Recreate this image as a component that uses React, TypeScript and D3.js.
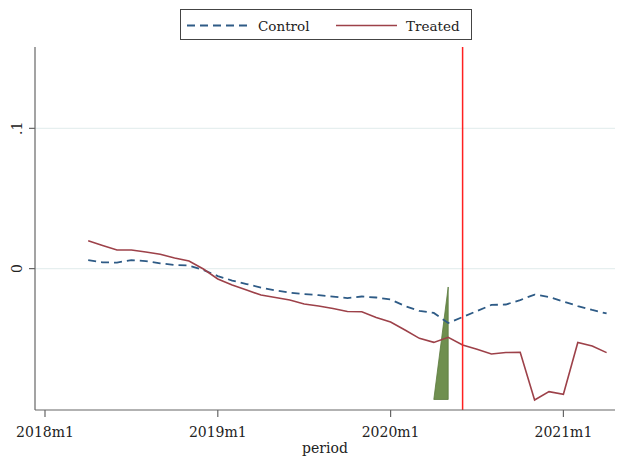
import React from "react";
import * as d3 from "d3";

const periods = [
  "2018m4","2018m5","2018m6","2018m7","2018m8","2018m9","2018m10","2018m11","2018m12",
  "2019m1","2019m2","2019m3","2019m4","2019m5","2019m6","2019m7","2019m8","2019m9","2019m10","2019m11","2019m12",
  "2020m1","2020m2","2020m3","2020m4","2020m5","2020m6","2020m7","2020m8","2020m9","2020m10","2020m11","2020m12",
  "2021m1","2021m2","2021m3","2021m4",
];

const control = [
  0.0061, 0.0045, 0.0043, 0.0061, 0.0054, 0.0038, 0.0026, 0.0022, -0.001,
  -0.0053, -0.0085, -0.011, -0.0135, -0.0156, -0.0171, -0.0182, -0.0189, -0.0199, -0.021, -0.0199, -0.0206,
  -0.022, -0.0267, -0.0302, -0.0316, -0.0388, -0.0345, -0.0302, -0.0259, -0.0256, -0.0224, -0.0185, -0.0202,
  -0.0234, -0.0267, -0.0295, -0.032,
];

const treated = [
  0.0199, 0.0165, 0.0133, 0.0133, 0.0118, 0.0102, 0.0076, 0.0054, -0.0003,
  -0.0074, -0.0117, -0.0153, -0.0188, -0.0206, -0.0224, -0.0252, -0.0267, -0.0284, -0.0306, -0.0307, -0.0349,
  -0.0381, -0.0438, -0.0497, -0.0526, -0.049, -0.0545, -0.0575, -0.0609, -0.0598, -0.0597, -0.0937, -0.0877,
  -0.0896, -0.0527, -0.0552, -0.0599,
];

const shadePeriods = ["2020m4", "2020m5"];
const shadeLow = [-0.0933, -0.0933];
const shadeHigh = [-0.0933, -0.0131];

const eventPeriod = "2020m6";

const xTickLabels = ["2018m1", "2019m1", "2020m1", "2021m1"];
const yTickValues = [0, 0.1];
const yTickLabels = ["0", ".1"];

const seriesNames = ["Control", "Treated"];

const toIndex = (p: string) => {
  const [y, m] = p.split("m").map(Number);
  return (y - 2018) * 12 + (m - 1);
};

const FONT = "DejaVu Serif";
const BLUE = "#2e5b86";
const RED = "#9d4149";

export default function App() {
  const W = 620, H = 456;
  const left = 35, right = 615, top = 47, bottom = 410;

  const x = d3.scaleLinear().domain([-0.694, 39.583]).range([left, right]);
  const y = d3.scaleLinear().domain([-0.1008, 0.158]).range([bottom, top]);

  const line = d3
    .line<[number, number]>()
    .x((d) => x(d[0]))
    .y((d) => y(d[1]));

  const ctrlData: [number, number][] = periods.map((p, i) => [toIndex(p), control[i]]);
  const trtData: [number, number][] = periods.map((p, i) => [toIndex(p), treated[i]]);

  const area = d3
    .area<number>()
    .x((i) => x(toIndex(shadePeriods[i])))
    .y0((i) => y(shadeLow[i]))
    .y1((i) => y(shadeHigh[i]));

  const ev = x(toIndex(eventPeriod));

  return (
    <svg
      width={W}
      height={H}
      style={{ position: "absolute", left: 0, top: 0, background: "#fff" }}
      fontFamily={FONT}
    >
      <rect x={0} y={0} width={W} height={H} fill="#fff" />
      {/* gridlines */}
      {yTickValues.map((v) => (
        <line key={v} x1={left} x2={right} y1={y(v)} y2={y(v)} stroke="#e6efef" strokeWidth={1.2} />
      ))}

      {/* shaded area */}
      <path d={area(shadePeriods.map((_, i) => i)) || ""} fill="#6f8f4f" stroke="#5a7a3c" strokeWidth={0.8} />

      {/* series */}
      <path d={line(ctrlData) || ""} fill="none" stroke={BLUE} strokeWidth={1.8} strokeDasharray="8,5" />
      <path d={line(trtData) || ""} fill="none" stroke={RED} strokeWidth={1.6} />

      {/* event line */}
      <line x1={ev} x2={ev} y1={top} y2={bottom} stroke="#ff2020" strokeWidth={1.5} />

      {/* axes */}
      <line x1={left} x2={left} y1={top} y2={bottom} stroke="#666" strokeWidth={1.2} />
      <line x1={left} x2={right} y1={bottom} y2={bottom} stroke="#666" strokeWidth={1.2} />

      {yTickValues.map((v, i) => (
        <g key={v}>
          <line x1={left - 6} x2={left} y1={y(v)} y2={y(v)} stroke="#666" strokeWidth={1.2} />
          <text
            transform={`translate(${22},${y(v)}) rotate(-90)`}
            textAnchor="middle"
            fontSize={14}
            fill="#222"
          >
            {yTickLabels[i]}
          </text>
        </g>
      ))}

      {xTickLabels.map((t) => {
        const xx = x(toIndex(t));
        return (
          <g key={t}>
            <line x1={xx} x2={xx} y1={bottom} y2={bottom + 7} stroke="#666" strokeWidth={1.2} />
            <text x={xx} y={437} textAnchor="middle" fontSize={14} fill="#222">
              {t}
            </text>
          </g>
        );
      })}

      <text x={(left + right) / 2} y={453} textAnchor="middle" fontSize={14} fill="#222">
        period
      </text>

      {/* legend */}
      <rect x={180.5} y={9.5} width={291} height={30} fill="#fff" stroke="#444" strokeWidth={1} />
      <line x1={187} x2={249} y1={25.5} y2={25.5} stroke={BLUE} strokeWidth={1.8} strokeDasharray="8,5" />
      <text x={258} y={30.5} fontSize={13.5} fill="#222">
        {seriesNames[0]}
      </text>
      <line x1={336} x2={397} y1={25.5} y2={25.5} stroke={RED} strokeWidth={1.6} />
      <text x={406} y={30.5} fontSize={13.5} fill="#222">
        {seriesNames[1]}
      </text>
    </svg>
  );
}
